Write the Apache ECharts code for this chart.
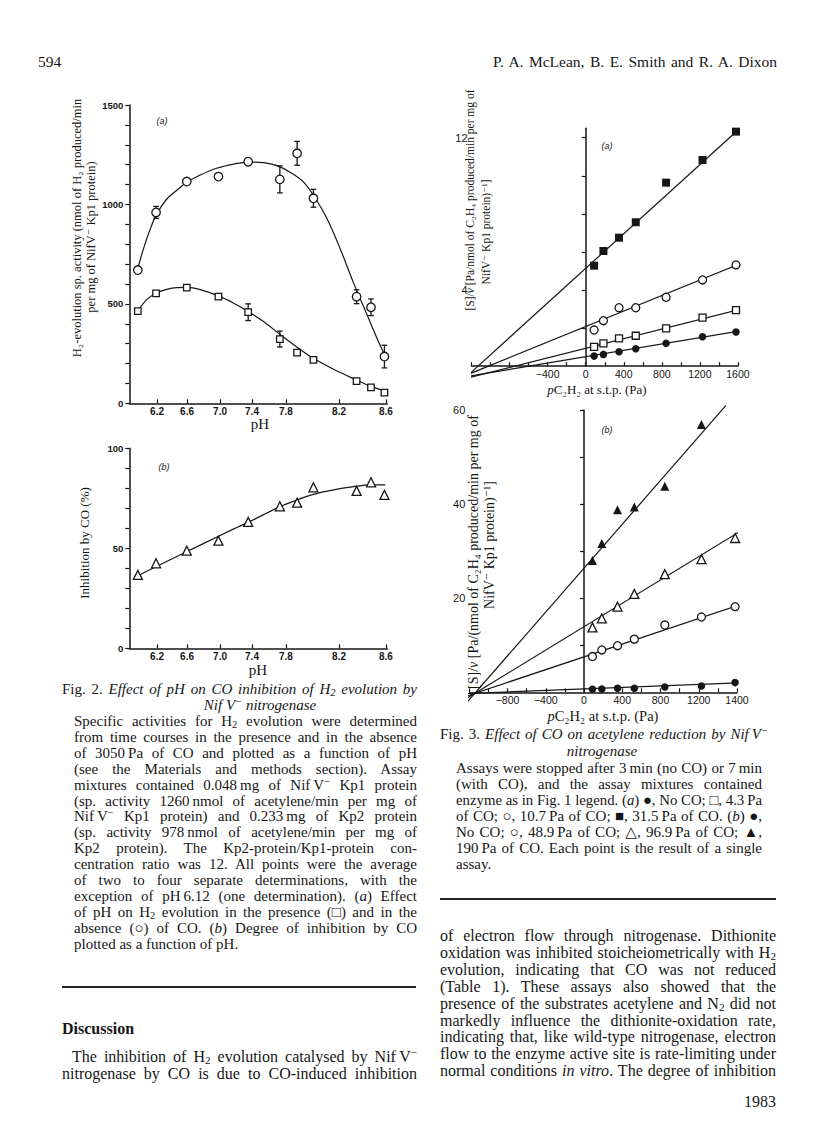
<!DOCTYPE html>
<html>
<head>
<meta charset="utf-8">
<title>McLean, Smith and Dixon – Figs 2 and 3</title>
<script src="https://cdn.jsdelivr.net/npm/echarts@6.0.0/dist/echarts.min.js"></script>
<style>
html,body{margin:0;padding:0;background:#fff;}
#page{position:relative;width:816px;height:1142px;overflow:hidden;background:#fff;color:#161616;font-family:"Liberation Serif","DejaVu Serif",serif;}
#chart{position:absolute;left:0;top:0;width:816px;height:1142px;}
.ln{position:absolute;white-space:nowrap;display:inline-block;line-height:16px;}
.cap{font-size:15px;}
.bd{font-size:16px;}
.hd{font-size:15.5px;}
sub{font-size:70%;vertical-align:-0.22em;line-height:0;}
sup{font-size:70%;vertical-align:0.5em;line-height:0;}
.rule{position:absolute;height:1.6px;background:#222;}
</style>
</head>
<body>
<div id="page">
<div id="chart"></div>
<div id="txt"></div>
</div>
<script>
// ---------------- DATA ----------------
// Fig. 2 (a): H2 evolution vs pH
const phPoints   = [6.00, 6.19, 6.51, 6.84, 7.15, 7.48, 7.66, 7.83, 8.28, 8.43, 8.57];
const h2NoCO     = [670, 960, 1115, 1140, 1215, 1126, 1257, 1031, 536, 483, 235];
const h2NoCOErr  = [0, 30, 0, 0, 0, 68, 60, 45, 35, 42, 57];
const h2WithCO   = [464, 553, 582, 536, 458, 323, 255, 218, 112, 80, 54];
const h2WithCOErr= [0, 0, 0, 0, 42, 40, 8, 0, 0, 0, 8];
// hand-drawn fitted curves
const fitNoCOpH  = [6.00, 6.06, 6.13, 6.20, 6.30, 6.41, 6.51, 6.65, 6.82, 7.00, 7.15, 7.31, 7.45, 7.59, 7.73, 7.85, 7.97, 8.11, 8.25, 8.39, 8.49, 8.57];
const fitNoCOval = [679, 779, 877, 955, 1026, 1073, 1111, 1148, 1182, 1203, 1213, 1210, 1195, 1161, 1111, 1031, 930, 776, 603, 444, 330, 246];
const fitCOpH    = [6.00, 6.09, 6.19, 6.30, 6.41, 6.51, 6.65, 6.84, 7.00, 7.15, 7.31, 7.48, 7.66, 7.83, 8.04, 8.28, 8.43, 8.57];
const fitCOval   = [464, 520, 553, 573, 582, 583, 572, 540, 503, 461, 411, 347, 282, 226, 171, 117, 85, 62];
// Fig. 2 (b): inhibition by CO (%)
const inhibition = [36.7, 42.5, 48.8, 53.8, 63.2, 71.0, 72.8, 80.5, 78.7, 83.0, 76.7];
const fitInhPH   = [6.00, 6.30, 6.65, 7.00, 7.16, 7.48, 7.66, 7.83, 8.04, 8.25, 8.42, 8.58];
const fitInhVal  = [36.3, 43.4, 51.6, 59.7, 63.2, 70.8, 74.2, 77.0, 79.2, 80.8, 81.7, 81.7];
// pH tick labels and where they sit along the (hand-lettered) axis
const phTickAt   = [6.200, 6.513, 6.857, 7.190, 7.544, 8.097, 8.586];
const phTickText = ['6.2', '6.6', '7.0', '7.4', '7.8', '8.2', '8.6'];
const h2Ticks    = [0,100,200,300,400,500,600,700,800,900,1000,1100,1200,1300,1400,1500];
const h2Labels   = [0, 500, 1000, 1500];
const inhTicks   = [0,10,20,30,40,50,60,70,80,90,100];
const inhLabels  = [0, 50, 100];

// Fig. 3: [S]/v vs pC2H2
const pC2H2      = [88, 186, 350, 526, 845, 1228, 1580];
// (a)
const a_noCO     = [0.53, 0.62, 0.76, 0.92, 1.20, 1.55, 1.80];
const a_co4_3    = [1.02, 1.20, 1.46, 1.60, 1.99, 2.55, 2.95];
const a_co10_7   = [1.90, 2.39, 3.07, 3.07, 3.62, 4.53, 5.32];
const a_co31_5   = [5.28, 6.05, 6.75, 7.56, 9.64, 10.83, 12.32];
// fitted straight lines: [x1, y1, x2, y2]
const a_fitNoCO  = [-1310, -0.59, 1633, 1.86];
const a_fit4_3   = [-1310, -0.71, 1633, 3.00];
const a_fit10_7  = [-1310, -0.58, 1633, 5.40];
const a_fit31_5  = [-1310, -0.80, 1640, 12.58];
// (b)
const b_noCO     = [0.64, 0.71, 0.85, 0.85, 1.13, 1.35, 2.06];
const b_co48_9   = [7.6, 9.0, 9.9, 11.3, 14.3, 16.0, 18.2];
const b_co96_9   = [13.8, 15.7, 18.2, 20.9, 25.1, 28.3, 32.8];
const b_co190    = [28.0, 31.6, 38.8, 39.4, 43.8, 56.9, 60.6];
const b_fitNoCO  = [-1290, -0.32, 1632, 2.0];
const b_fit48_9  = [-1290, -1.22, 1632, 18.6];
const b_fit96_9  = [-1290, -2.06, 1632, 34.2];
const b_fit190   = [-1290, -3.67, 1485, 61.0];
const pTicks     = [-1200,-1000,-800,-600,-400,-200,0,200,400,600,800,1000,1200,1400,1600];
const aXLabelVals= [-400, 0, 400, 800, 1200, 1600];
const aXLabels   = ['\u2212400', '0', '400', '800', '1200', '1600'];
const bXLabelVals= [-800, -400, 0, 400, 800, 1200, 1600];
const bXLabels   = ['\u2212800', '\u2212400', '0', '400', '800', '1200', '1400'];
const aYTicks    = [2, 4, 6, 8, 10, 12];
const aYLabels   = [4, 12];
const bYTicks    = [10, 20, 30, 40, 50, 60];
const bYLabels   = [20, 40, 60];

// ---------------- CHART ----------------
const ink = '#161616';
const SANS = '"Liberation Sans", Arial, sans-serif';
const SERIF = '"Liberation Serif", "DejaVu Serif", serif';
const zip = (xs, ys) => xs.map((x, i) => [x, ys[i]]);
const zip3 = (xs, ys, es) => xs.map((x, i) => [x, ys[i], es[i]]);
const seg = s => [[s[0], s[1]], [s[2], s[3]]];

function axLine(){ return {show:true, onZero:true, lineStyle:{color:ink, width:1.5}}; }
function xAx(gi, min, max, ticks, labelVals, fmt, font){
  return {gridIndex:gi, type:'value', min, max,
    axisLine:axLine(),
    axisTick:{show:true, inside:true, length:4, customValues:ticks, lineStyle:{color:ink, width:1.2}},
    axisLabel:{show:true, customValues:labelVals, formatter:fmt, color:ink, fontFamily:SANS,
               fontSize:font.size, fontWeight:font.weight, margin:font.margin},
    splitLine:{show:false}};
}
function yAx(gi, min, max, ticks, labelVals, fmt, font){
  return {gridIndex:gi, type:'value', min, max,
    axisLine:axLine(),
    axisTick:{show:true, inside:false, length:4, customValues:ticks, lineStyle:{color:ink, width:1.2}},
    axisLabel:{show:true, customValues:labelVals, formatter:fmt, color:ink, fontFamily:SANS,
               fontSize:font.size, fontWeight:font.weight, margin:font.margin},
    splitLine:{show:false}};
}
function curve(xi, data, smooth){
  return {type:'line', xAxisIndex:xi, yAxisIndex:xi, data, smooth, symbol:'none', clip:false,
          lineStyle:{color:ink, width:1.2}, z:2, silent:true};
}
function pts(xi, data, symbol, size, filled){
  return {type:'scatter', xAxisIndex:xi, yAxisIndex:xi, data, symbol, symbolSize:size, z:5, silent:true,
          itemStyle:{color:filled ? ink : '#fff', borderColor:ink, borderWidth:filled ? 0 : 1.3, opacity:1}};
}
function errBars(xi, data){
  return {type:'custom', xAxisIndex:xi, yAxisIndex:xi, data, z:3, silent:true,
    renderItem(params, api){
      const x = api.value(0), y = api.value(1), e = api.value(2);
      if (!e) return null;
      const t = api.coord([x, y + e]), b = api.coord([x, y - e]), h = 2.8;
      const st = {stroke:ink, lineWidth:1.3};
      return {type:'group', children:[
        {type:'line', shape:{x1:t[0], y1:t[1], x2:b[0], y2:b[1]}, style:st},
        {type:'line', shape:{x1:t[0]-h, y1:t[1], x2:t[0]+h, y2:t[1]}, style:st},
        {type:'line', shape:{x1:b[0]-h, y1:b[1], x2:b[0]+h, y2:b[1]}, style:st}]};
    }};
}
function lookup(vals, labels){ return v => { const i = vals.findIndex(q => Math.abs(q - v) < 1e-6); return i < 0 ? '' : labels[i]; }; }
function txt(x, y, text, opt){
  return Object.assign({type:'text', x, y, silent:true, style:Object.assign({text, fill:ink,
    font:'13px ' + SERIF, textAlign:'center', textVerticalAlign:'middle'}, opt && opt.style || {})},
    opt && opt.rot ? {rotation:opt.rot} : {});
}

const fig2Font  = {size:9.5, weight:'bold', margin:6};
const fig2XFont = {size:10, weight:'bold', margin:3};
const fig3Font  = {size:11, weight:'normal', margin:4};
const fig3XFont = {size:10.5, weight:'normal', margin:2};

const chart = echarts.init(document.getElementById('chart'), null, {renderer:'svg', width:816, height:1142});
chart.setOption({
  animation:false,
  backgroundColor:'transparent',
  grid:[
    {left:129.3, top:105,   width:258,   height:298.3},
    {left:129.3, top:448.3, width:258,   height:200},
    {left:471.6, top:128.2, width:266.3, height:238},
    {left:469.3, top:410,   width:267.7, height:282.3}
  ],
  xAxis:[
    xAx(0, 5.911, 8.6, phTickAt, phTickAt, lookup(phTickAt, phTickText), fig2XFont),
    xAx(1, 5.911, 8.6, phTickAt, phTickAt, lookup(phTickAt, phTickText), fig2XFont),
    xAx(2, -1200, 1600, pTicks, aXLabelVals, lookup(aXLabelVals, aXLabels), fig3XFont),
    xAx(3, -1200, 1600, pTicks, bXLabelVals, lookup(bXLabelVals, bXLabels), fig3XFont)
  ],
  yAxis:[
    yAx(0, 0, 1500, h2Ticks, h2Labels, v => String(v), fig2Font),
    yAx(1, 0, 100, inhTicks, inhLabels, v => String(v), fig2Font),
    yAx(2, 0, 12.5, aYTicks, aYLabels, v => String(v), fig3Font),
    yAx(3, 0, 60, bYTicks, bYLabels, v => String(v), fig3Font)
  ],
  series:[
    curve(0, zip(fitNoCOpH, fitNoCOval), 0.35),
    curve(0, zip(fitCOpH, fitCOval), 0.35),
    errBars(0, zip3(phPoints, h2NoCO, h2NoCOErr)),
    errBars(0, zip3(phPoints, h2WithCO, h2WithCOErr)),
    pts(0, zip(phPoints, h2NoCO), 'circle', 8.5, false),
    pts(0, zip(phPoints, h2WithCO), 'rect', 6.5, false),

    curve(1, zip(fitInhPH, fitInhVal), 0.35),
    pts(1, zip(phPoints, inhibition), 'triangle', 9, false),

    curve(2, seg(a_fitNoCO), false),
    curve(2, seg(a_fit4_3), false),
    curve(2, seg(a_fit10_7), false),
    curve(2, seg(a_fit31_5), false),
    pts(2, zip(pC2H2, a_noCO), 'circle', 7.5, true),
    pts(2, zip(pC2H2, a_co4_3), 'rect', 7, false),
    pts(2, zip(pC2H2, a_co10_7), 'circle', 8, false),
    pts(2, zip(pC2H2, a_co31_5), 'rect', 8, true),

    curve(3, seg(b_fitNoCO), false),
    curve(3, seg(b_fit48_9), false),
    curve(3, seg(b_fit96_9), false),
    curve(3, seg(b_fit190), false),
    pts(3, zip(pC2H2, b_noCO), 'circle', 7.5, true),
    pts(3, zip(pC2H2, b_co48_9), 'circle', 8, false),
    pts(3, zip(pC2H2, b_co96_9), 'triangle', 9, false),
    pts(3, zip(pC2H2, b_co190), 'triangle', 9, true)
  ],
  graphic:[
    txt(162, 121, '(a)', {style:{font:'italic 9px ' + SANS}}),
    txt(164, 467, '(b)', {style:{font:'italic 9px ' + SANS}}),
    txt(260, 424, 'pH', {style:{font:'15px ' + SERIF}}),
    txt(258, 670, 'pH', {style:{font:'15px ' + SERIF}}),
    txt(77, 228, 'H\u2082-evolution sp. activity (nmol of H\u2082 produced/min', {rot:Math.PI/2, style:{font:'12.5px ' + SERIF}}),
    txt(91, 237, 'per mg of NifV\u207B Kp1 protein)', {rot:Math.PI/2, style:{font:'12.5px ' + SERIF}}),
    txt(84, 543, 'Inhibition by CO (%)', {rot:Math.PI/2, style:{font:'13px ' + SERIF}}),

    txt(607, 146, '(a)', {style:{font:'italic 9px ' + SANS}}),
    txt(607, 430, '(b)', {style:{font:'italic 9px ' + SANS}}),
    txt(470, 200, '[S]/{i|v} [Pa/nmol of C\u2082H\u2084 produced/min per mg of', {rot:Math.PI/2,
        style:{font:'11.5px ' + SERIF, rich:{i:{fontStyle:'italic', fontFamily:SERIF, fontSize:11.5}}}}),
    txt(486, 232, 'NifV\u207B Kp1 protein)\u207B\u00B9]', {rot:Math.PI/2, style:{font:'11.5px ' + SERIF}}),
    txt(473, 552, '[S]/{i|v} [Pa/(nmol of C\u2082H\u2084 produced/min per mg of', {rot:Math.PI/2,
        style:{font:'14px ' + SERIF, rich:{i:{fontStyle:'italic', fontFamily:SERIF, fontSize:14}}}}),
    txt(489, 545, 'NifV\u207B Kp1 protein)\u207B\u00B9]', {rot:Math.PI/2, style:{font:'14px ' + SERIF}}),
    txt(597, 389, '{i|p}C\u2082H\u2082 at s.t.p. (Pa)', {style:{font:'13px ' + SERIF, rich:{i:{fontStyle:'italic', fontFamily:SERIF, fontSize:13}}}}),
    txt(603, 716, '{i|p}C\u2082H\u2082 at s.t.p. (Pa)', {style:{font:'14.5px ' + SERIF, rich:{i:{fontStyle:'italic', fontFamily:SERIF, fontSize:14.5}}}})
  ]
});

// ---------------- PAGE TEXT ----------------
const T = document.getElementById('txt');
function line(html, x, y, cls, w, mode){
  const d = document.createElement('div');
  d.className = 'ln ' + cls;
  d.innerHTML = html;
  d.style.top = (y - 9) + 'px';
  T.appendChild(d);
  const nat = d.getBoundingClientRect().width;
  if (mode === 'c') { d.style.left = (x - nat / 2) + 'px'; return; }
  if (mode === 'r') { d.style.left = (x - nat) + 'px'; return; }
  d.style.left = x + 'px';
  if (w) {
    const n = (d.textContent.match(/ /g) || []).length;
    if (nat > w) { d.style.transformOrigin = '0 0'; d.style.transform = 'scaleX(' + (w / nat) + ')'; }
    else if (n) d.style.wordSpacing = ((w - nat) / n) + 'px';
  }
}
function block(lines, x, y0, dy, cls, w, lastFree){
  lines.forEach((h, i) => line(h, x, y0 + i * dy, cls, (lastFree && i === lines.length - 1) ? 0 : w));
}
const th = '\u2009';
line('594', 38, 63, 'hd');
line('P. A. McLean, B. E. Smith and R. A. Dixon', 493, 63, 'hd', 284);

line('Fig. 2. <i>Effect of pH on CO inhibition of H<sub>2</sub> evolution by</i>', 62, 690, 'cap', 355);
line('<i>Nif V<sup>\u2212</sup> nitrogenase</i>', 260, 706, 'cap', 0, 'c');
block([
  'Specific activities for H<sub>2</sub> evolution were determined',
  'from time courses in the presence and in the absence',
  'of 3050' + th + 'Pa of CO and plotted as a function of pH',
  '(see the Materials and methods section). Assay',
  'mixtures contained 0.048' + th + 'mg of Nif' + th + 'V<sup>\u2212</sup> Kp1 protein',
  '(sp. activity 1260' + th + 'nmol of acetylene/min per mg of',
  'Nif' + th + 'V<sup>\u2212</sup> Kp1 protein) and 0.233' + th + 'mg of Kp2 protein',
  '(sp. activity 978' + th + 'nmol of acetylene/min per mg of',
  'Kp2 protein). The Kp2-protein/Kp1-protein con-',
  'centration ratio was 12. All points were the average',
  'of two to four separate determinations, with the',
  'exception of pH' + th + '6.12 (one determination). (<i>a</i>) Effect',
  'of pH on H<sub>2</sub> evolution in the presence (\u25A1) and in the',
  'absence (\u25CB) of CO. (<i>b</i>) Degree of inhibition by CO',
  'plotted as a function of pH.'
], 74, 722, 15.9, 'cap', 343, true);

line('Fig. 3. <i>Effect of CO on acetylene reduction by Nif' + th + 'V<sup>\u2212</sup></i>', 440, 735, 'cap', 328);
line('<i>nitrogenase</i>', 602, 752, 'cap', 0, 'c');
block([
  'Assays were stopped after 3' + th + 'min (no CO) or 7' + th + 'min',
  '(with CO), and the assay mixtures contained',
  'enzyme as in Fig. 1 legend. (<i>a</i>) \u25CF, No CO; \u25A1, 4.3' + th + 'Pa',
  'of CO; \u25CB, 10.7' + th + 'Pa of CO; \u25A0, 31.5' + th + 'Pa of CO. (<i>b</i>) \u25CF,',
  'No CO; \u25CB, 48.9' + th + 'Pa of CO; \u25B3, 96.9' + th + 'Pa of CO; \u25B2,',
  '190' + th + 'Pa of CO. Each point is the result of a single',
  'assay.'
], 456, 769, 16, 'cap', 306, true);

block([
  'of electron flow through nitrogenase. Dithionite',
  'oxidation was inhibited stoicheiometrically with H<sub>2</sub>',
  'evolution, indicating that CO was not reduced',
  '(Table 1). These assays also showed that the',
  'presence of the substrates acetylene and N<sub>2</sub> did not',
  'markedly influence the dithionite-oxidation rate,',
  'indicating that, like wild-type nitrogenase, electron',
  'flow to the enzyme active site is rate-limiting under',
  'normal conditions <i>in vitro</i>. The degree of inhibition'
], 440, 937, 16.9, 'bd', 336, false);
line('1983', 776, 1103, 'bd', 0, 'r');

line('<b>Discussion</b>', 62, 1030, 'bd');
line('The inhibition of H<sub>2</sub> evolution catalysed by Nif' + th + 'V<sup>\u2212</sup>', 72, 1058, 'bd', 345);
line('nitrogenase by CO is due to CO-induced inhibition', 62, 1075, 'bd', 355);

function rule(x1, x2, y){ const r = document.createElement('div'); r.className = 'rule';
  r.style.left = x1 + 'px'; r.style.width = (x2 - x1) + 'px'; r.style.top = y + 'px'; T.appendChild(r); }
rule(62, 416, 986);
rule(440, 776, 898);
</script>
</body>
</html>
